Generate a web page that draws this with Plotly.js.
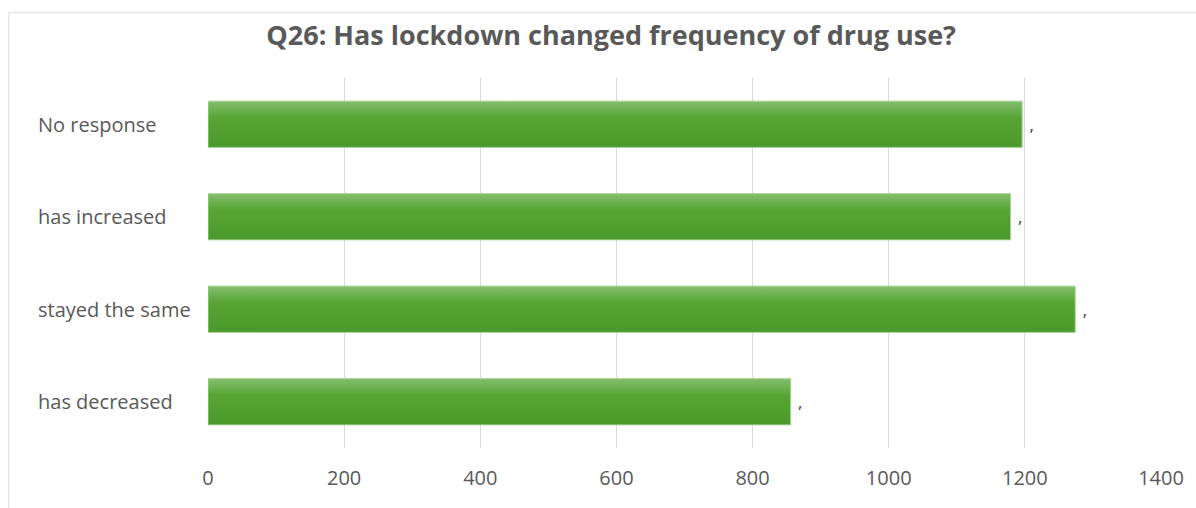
<!DOCTYPE html>
<html>
<head>
<meta charset="utf-8">
<script src="https://cdn.plot.ly/plotly-3.0.1.min.js"></script>
<style>
  html, body { margin: 0; padding: 0; background: #ffffff; }
  #chart { width: 1196px; height: 508px; }
</style>
</head>
<body>
<div id="chart"></div>
<script>
// Survey answers, listed bottom to top as they appear on the axis
const categories = ['has decreased', 'stayed the same', 'has increased', 'No response'];
const counts = [856, 1274, 1179, 1196];
const barLabels = [' ,', ' ,', ' ,', ' ,'];
const xTicks = [0, 200, 400, 600, 800, 1000, 1200, 1400];
const chartTitle = 'Q26: Has lockdown changed frequency of drug use?';

const textGrey = '#595959';
const font = 'Open Sans, sans-serif';

const trace = {
  type: 'bar',
  orientation: 'h',
  x: counts,
  y: categories,
  text: barLabels,
  textposition: 'outside',
  cliponaxis: false,
  textfont: { family: font, size: 17, color: '#404040' },
  marker: { color: '#52a12f', line: { color: '#a8d494', width: 1 } },
  hoverinfo: 'x+y'
};

// Category names sit left-aligned in the left margin
const labelAnnotations = categories.map(c => ({
  xref: 'paper', yref: 'y',
  x: -0.1805, y: c,
  text: c,
  showarrow: false,
  xanchor: 'left', yanchor: 'middle',
  font: { family: font, size: 20, color: textGrey }
}));

const layout = {
  width: 1196,
  height: 508,
  margin: { l: 208, r: 35, t: 78, b: 60, pad: 0 },
  paper_bgcolor: '#ffffff',
  plot_bgcolor: '#ffffff',
  showlegend: false,
  bargap: 0.5,
  title: {
    text: '<b>' + chartTitle + '</b>',
    font: { family: font, size: 27, color: textGrey },
    x: 0.511, xanchor: 'center',
    y: 0.93, yanchor: 'middle', yref: 'container'
  },
  xaxis: {
    range: [0, 1400],
    tickvals: xTicks,
    ticktext: xTicks.map(String),
    showgrid: true,
    gridcolor: '#d9d9d9',
    gridwidth: 1,
    zeroline: false,
    showline: false,
    ticks: 'outside',
    ticklen: 12,
    tickcolor: 'rgba(0,0,0,0)',
    tickfont: { family: font, size: 20, color: textGrey },
    fixedrange: true
  },
  yaxis: {
    type: 'category',
    categoryorder: 'array',
    categoryarray: categories,
    showticklabels: false,
    showgrid: false,
    zeroline: false,
    showline: false,
    fixedrange: true
  },
  annotations: labelAnnotations,
  shapes: [
    { type: 'line', xref: 'paper', yref: 'paper', x0: -0.209, x1: 1.04, y0: 1.177, y1: 1.177,
      line: { color: '#e6e6e6', width: 1.5 } },
    { type: 'line', xref: 'paper', yref: 'paper', x0: -0.209, x1: -0.209, y0: 1.177, y1: -0.17,
      line: { color: '#e6e6e6', width: 1.5 } }
  ]
};

Plotly.newPlot('chart', [trace], layout, { displayModeBar: false, staticPlot: true }).then(gd => {
  // Vertical green shading on each bar
  const svgNS = 'http://www.w3.org/2000/svg';
  const svg = gd.querySelector('.main-svg');
  let defs = svg.querySelector('defs');
  if (!defs) { defs = document.createElementNS(svgNS, 'defs'); svg.insertBefore(defs, svg.firstChild); }
  const grad = document.createElementNS(svgNS, 'linearGradient');
  grad.setAttribute('id', 'barShade');
  grad.setAttribute('x1', '0'); grad.setAttribute('y1', '0');
  grad.setAttribute('x2', '0'); grad.setAttribute('y2', '1');
  [['0%', '#84be6e'], ['35%', '#58a535'], ['100%', '#4a992b']].forEach(([off, col]) => {
    const s = document.createElementNS(svgNS, 'stop');
    s.setAttribute('offset', off);
    s.setAttribute('stop-color', col);
    grad.appendChild(s);
  });
  defs.appendChild(grad);
  gd.querySelectorAll('.bars .point path').forEach(p => {
    p.style.fill = 'url(#barShade)';
  });
});
</script>
</body>
</html>
